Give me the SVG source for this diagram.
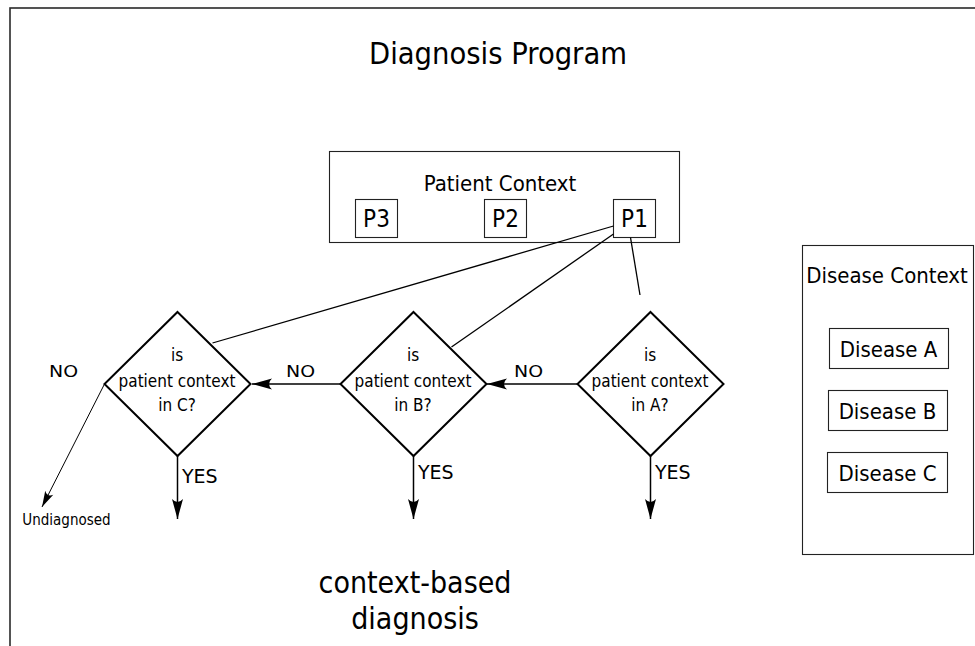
<svg xmlns="http://www.w3.org/2000/svg" width="975" height="646" viewBox="0 0 975 646">
  <style>
    .frame { fill: none; stroke: #2a2a2a; stroke-width: 1.6; }
    .box { fill: #ffffff; stroke: #222222; stroke-width: 1.1; }
    .decision { fill: #ffffff; stroke: #000000; stroke-width: 2; stroke-linejoin: miter; }
    .link { fill: none; stroke: #000000; stroke-width: 1.3; }
    .flow { fill: none; stroke: #000000; stroke-width: 1.5; marker-end: url(#head); }
    .thin { fill: none; stroke: #000000; stroke-width: 1; marker-end: url(#headSmall); }
    text { font-family: "DejaVu Sans Condensed", "DejaVu Sans", sans-serif; fill: #000000; text-anchor: middle; font-stretch: condensed; }
    .title { font-size: 30px; }
    .label { font-size: 22px; }
    .pid { font-size: 24px; }
    .q { font-size: 17px; }
    .small { font-size: 15px; }
    .yes { font-family: "DejaVu Sans", sans-serif; font-stretch: normal; font-size: 19px; text-anchor: start; }
    .no { font-family: "DejaVu Sans", sans-serif; font-stretch: normal; font-size: 16px; text-anchor: start; }
  </style>
  <defs>
    <marker id="head" markerUnits="userSpaceOnUse" markerWidth="24" markerHeight="14" refX="0" refY="0" viewBox="-21 -7 24 14" orient="auto" overflow="visible">
      <path d="M0,0 L-20,-5.5 Q-14,0 -20,5.5 Z" fill="#000000"/>
    </marker>
    <marker id="headSmall" markerUnits="userSpaceOnUse" markerWidth="20" markerHeight="12" refX="0" refY="0" viewBox="-18 -6 20 12" orient="auto" overflow="visible">
      <path d="M0,0 L-16,-4.5 Q-11,0 -16,4.5 Z" fill="#000000"/>
    </marker>
  </defs>

  <rect width="975" height="646" fill="#ffffff"/>

  <!-- outer program frame, running past the right and bottom edges -->
  <rect class="frame" x="10" y="8" width="1000" height="700"/>
  <text class="title" x="498" y="64" textLength="258" lengthAdjust="spacingAndGlyphs" font-size="32">Diagnosis Program</text>

  <!-- patient context container -->
  <g id="patient-context">
    <rect class="box" x="329.5" y="151.5" width="350" height="91"/>
    <text class="label" x="500" y="191">Patient Context</text>
  </g>
  <g id="p3">
    <rect class="box" x="355.5" y="199.5" width="42" height="38"/>
    <text class="pid" x="376.5" y="227">P3</text>
  </g>
  <g id="p2">
    <rect class="box" x="484.5" y="199.5" width="42" height="38"/>
    <text class="pid" x="505.5" y="227">P2</text>
  </g>
  <g id="p1">
    <rect class="box" x="613.5" y="199.5" width="42" height="38"/>
    <text class="pid" x="634.5" y="227">P1</text>
  </g>

  <!-- decision diamonds -->
  <g id="check-c">
    <polygon class="decision" points="177.5,312 250.5,384 177.5,456 104.5,384"/>
    <text class="q" x="177" y="361">is</text>
    <text class="q" x="177" y="387">patient context</text>
    <text class="q" x="177" y="411">in C?</text>
  </g>
  <g id="check-b">
    <polygon class="decision" points="413.5,312 486.5,384 413.5,456 340.5,384"/>
    <text class="q" x="413" y="361">is</text>
    <text class="q" x="413" y="387">patient context</text>
    <text class="q" x="413" y="411">in B?</text>
  </g>
  <g id="check-a">
    <polygon class="decision" points="650.5,312 723.5,384 650.5,456 577.5,384"/>
    <text class="q" x="650" y="361">is</text>
    <text class="q" x="650" y="387">patient context</text>
    <text class="q" x="650" y="411">in A?</text>
  </g>

  <!-- disease context container -->
  <g id="disease-context">
    <rect class="box" x="802.5" y="245.5" width="171" height="309"/>
    <text class="label" x="887" y="283">Disease Context</text>
  </g>
  <g id="disease-a">
    <rect class="box" x="829.5" y="328.5" width="119" height="40"/>
    <text class="label" x="888.5" y="357">Disease A</text>
  </g>
  <g id="disease-b">
    <rect class="box" x="828.5" y="390.5" width="119" height="40"/>
    <text class="label" x="887.5" y="419">Disease B</text>
  </g>
  <g id="disease-c">
    <rect class="box" x="827.5" y="452.5" width="120" height="40"/>
    <text class="label" x="887.5" y="481">Disease C</text>
  </g>

  <!-- connectors -->
  <g id="connectors">
    <line class="link" x1="613.5" y1="226" x2="212.5" y2="343"/>
    <line class="link" x1="613.5" y1="234" x2="451.5" y2="347"/>
    <line class="link" x1="630.5" y1="237.5" x2="640" y2="295"/>

    <line class="flow" x1="577.5" y1="384" x2="487" y2="384"/>
    <line class="flow" x1="340.5" y1="384" x2="252" y2="384"/>
    <line class="thin" x1="104.5" y1="384" x2="42" y2="507"/>

    <line class="flow" x1="177.5" y1="456" x2="177.5" y2="519"/>
    <line class="flow" x1="413.5" y1="456" x2="413.5" y2="519"/>
    <line class="flow" x1="650.5" y1="456" x2="650.5" y2="519"/>

    <text class="no" x="49" y="377" textLength="29" lengthAdjust="spacingAndGlyphs">NO</text>
    <text class="no" x="286" y="377" textLength="29" lengthAdjust="spacingAndGlyphs">NO</text>
    <text class="no" x="514" y="377" textLength="29" lengthAdjust="spacingAndGlyphs">NO</text>
    <text class="yes" x="182" y="483">YES</text>
    <text class="yes" x="418" y="479">YES</text>
    <text class="yes" x="655" y="479">YES</text>
  </g>

  <text class="small" x="66.5" y="525">Undiagnosed</text>
  <text class="title" x="415" y="593">context-based</text>
  <text class="title" x="415" y="629">diagnosis</text>
</svg>
